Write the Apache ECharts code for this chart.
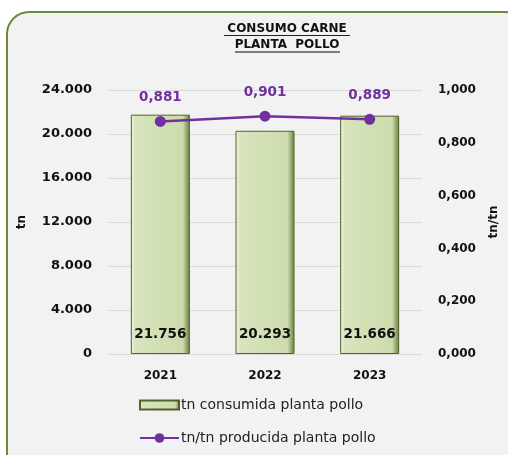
<!DOCTYPE html>
<html><head><meta charset="utf-8">
<script src="https://cdn.jsdelivr.net/npm/echarts@6/dist/echarts.min.js"></script>
<style>html,body{margin:0;padding:0;background:#fff;}#c{width:508px;height:455px;}</style>
</head><body><div id="c"></div>
<script>
const categories = ['2021', '2022', '2023'];
const consumo = [21756, 20293, 21666];
const ratio = [0.881, 0.901, 0.889];
const titleLines = ['CONSUMO CARNE', 'PLANTA  POLLO'];
const seriesNames = ['tn consumida planta pollo', 'tn/tn producida planta pollo'];

const FONT = '"DejaVu Sans", sans-serif';
const chart = echarts.init(document.getElementById('c'));
const fmtThousands = v => String(Math.round(v)).replace(/\B(?=(\d{3})+(?!\d))/g, '.');
const fmtRatio = v => v.toFixed(3).replace('.', ',');

const legendBase = {
  orient: 'vertical', left: 139, padding: 0,
  itemWidth: 39, itemHeight: 9, itemGap: 0,
  textStyle: { fontSize: 14, lineHeight: 16, color: '#222', fontFamily: FONT, padding: [0, 0, 0, -3] }
};

chart.setOption({
  backgroundColor: 'transparent',
  animation: false,
  textStyle: { fontFamily: FONT },
  graphic: [
    { type: 'rect', z: -10, shape: { x: 7, y: 12, width: 520, height: 470, r: 22 },
      style: { fill: '#f2f2f2', stroke: '#6b8a3a', lineWidth: 2 } },
    { type: 'text', x: 287, y: 29, z: 10,
      style: { text: titleLines[0], font: 'bold 12px ' + FONT, fill: '#111', align: 'center', verticalAlign: 'middle' } },
    { type: 'text', x: 287, y: 45, z: 10,
      style: { text: titleLines[1], font: 'bold 12px ' + FONT, fill: '#111', align: 'center', verticalAlign: 'middle' } },
    { type: 'line', shape: { x1: 224, y1: 35.5, x2: 350, y2: 35.5 }, style: { stroke: '#222', lineWidth: 1 } },
    { type: 'line', shape: { x1: 235, y1: 52, x2: 340, y2: 52 }, style: { stroke: '#555', lineWidth: 1.5 } }
  ],
  grid: { left: 108, right: 81, top: 90, bottom: 101 },
  legend: [
    Object.assign({}, legendBase, { top: 397, data: [{ name: seriesNames[0], icon: 'rect' }] }),
    Object.assign({}, legendBase, { top: 430, itemHeight: 12, data: [seriesNames[1]] })
  ],
  xAxis: {
    type: 'category', data: categories,
    axisLine: { show: false }, axisTick: { show: false },
    axisLabel: { fontWeight: 'bold', fontSize: 12, color: '#111', margin: 16 }
  },
  yAxis: [
    { type: 'value', min: 0, max: 24000, interval: 4000,
      name: 'tn', nameLocation: 'middle', nameGap: 80, nameRotate: 90,
      nameTextStyle: { fontWeight: 'bold', fontSize: 12, color: '#111' },
      axisLine: { show: false }, axisTick: { show: false },
      axisLabel: { fontWeight: 'bold', fontSize: 13, color: '#111', margin: 16, formatter: fmtThousands },
      splitLine: { lineStyle: { color: '#d9d9d9', width: 1 } } },
    { type: 'value', min: 0, max: 1, interval: 0.2,
      name: 'tn/tn', nameLocation: 'middle', nameGap: 66, nameRotate: 90,
      nameTextStyle: { fontWeight: 'bold', fontSize: 12, color: '#111' },
      axisLine: { show: false }, axisTick: { show: false },
      axisLabel: { fontWeight: 'bold', fontSize: 12, color: '#111', margin: 16, formatter: fmtRatio },
      splitLine: { show: false } }
  ],
  series: [
    { name: seriesNames[0], type: 'bar', data: consumo, barWidth: 59,
      itemStyle: {
        color: new echarts.graphic.LinearGradient(0, 0, 1, 0, [
          { offset: 0, color: '#eef5dc' }, { offset: 0.08, color: '#d7e4bd' },
          { offset: 0.88, color: '#cddcad' }, { offset: 1, color: '#6b7d3e' }
        ]),
        borderColor: '#4f6228', borderWidth: 1
      },
      label: { show: true, position: 'insideBottom', distance: 13, formatter: p => fmtThousands(p.value),
        fontWeight: 'bold', fontSize: 13.5, color: '#111' } },
    { name: seriesNames[1], type: 'line', yAxisIndex: 1, data: ratio,
      lineStyle: { color: '#7030a0', width: 2.5 }, itemStyle: { color: '#7030a0' },
      symbol: 'circle', symbolSize: 11,
      label: { show: true, position: 'top', distance: 11, formatter: p => fmtRatio(p.value),
        fontWeight: 'bold', fontSize: 13.5, color: '#7030a0' } }
  ]
});
</script></body></html>
